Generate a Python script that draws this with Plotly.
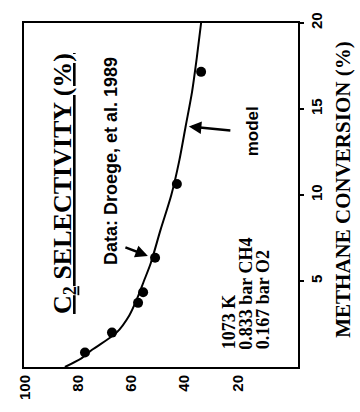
import plotly.graph_objects as go

# ---- data ----
conv_data = [0.84, 2.0, 3.73, 4.35, 6.35, 10.64, 17.16]          # methane conversion (%)
sel_data = [77.45, 67.3, 57.5, 55.6, 51.1, 42.9, 33.8]           # C2 selectivity (%)

conv_model = [0, 0.5, 1, 2, 3, 4, 5, 6, 8, 10, 12, 14, 16, 18, 20]
sel_model = [85.0, 78.8, 74.8, 65.6, 60.8, 57.8, 55.3, 52.8, 49.0, 45.0, 42.0, 39.6, 37.2, 35.4, 33.8]

sel_ticks = [100, 80, 60, 40, 20]
conv_ticks = [5, 10, 15, 20]

# ---- layout geometry (pixels) ----
Wd, Ht = 360, 412
L, R, T, B = 24, 298, 12, 371
PW, PH = R - L, B - T


def px(x):
    return (x - L) / PW


def py(y):
    return (B - y) / PH


serif = "Liberation Serif"
sans = "Liberation Sans"

fig = go.Figure()
fig.add_trace(go.Scatter(x=sel_model, y=conv_model, mode="lines",
                         line=dict(color="black", width=2, shape="spline", smoothing=0.8),
                         showlegend=False, hoverinfo="skip"))
fig.add_trace(go.Scatter(x=sel_data, y=conv_data, mode="markers",
                         marker=dict(color="black", size=10),
                         showlegend=False))

ann = []
# selectivity title (inside plot, underlined)
ann.append(dict(text="<u>C<sub>2</sub> SELECTIVITY (%)</u>", xref="paper", yref="paper",
                x=px(64), y=py(180), xanchor="center", yanchor="middle", textangle=-90,
                showarrow=False, font=dict(family=serif, size=26, color="black", weight="bold")))
# conversion axis title
ann.append(dict(text="METHANE CONVERSION (%)", xref="paper", yref="paper",
                x=px(343), y=py(186), xanchor="center", yanchor="middle", textangle=-90,
                showarrow=False, font=dict(family=serif, size=21, color="black", weight="bold")))
# Data label
ann.append(dict(text="Data: Droege, et al. 1989", xref="paper", yref="paper",
                x=px(111), y=py(156), xanchor="center", yanchor="middle", textangle=-90,
                showarrow=False, font=dict(family=sans, size=18, color="black", weight="bold")))
# arrow to data point
ann.append(dict(text="", x=53.8, y=6.46, xref="x", yref="y", showarrow=True,
                ax=-24, ay=-9, arrowhead=2, arrowsize=1, arrowwidth=2.5, arrowcolor="black"))
# model label
ann.append(dict(text="model", xref="paper", yref="paper",
                x=px(252), y=py(125), xanchor="center", yanchor="middle", textangle=-90,
                showarrow=False, font=dict(family=sans, size=17, color="black", weight="bold")))
ann.append(dict(text="", x=38.4, y=13.98, xref="x", yref="y", showarrow=True,
                ax=43, ay=4, arrowhead=2, arrowsize=1, arrowwidth=2.5, arrowcolor="black"))
# conditions
cond_lines = ["1073 K", "0.833 bar CH4", "0.167 bar O2"]
cond_x = [229, 246, 263]
for t, xx in zip(cond_lines, cond_x):
    ann.append(dict(text=t, xref="paper", yref="paper", x=px(xx), y=py(355),
                    xanchor="center", yanchor="bottom", textangle=-90, showarrow=False,
                    font=dict(family=serif, size=18, color="black", weight="bold")))

fig.update_layout(
    width=Wd, height=Ht,
    margin=dict(l=L, r=Wd - R, t=T, b=Ht - B),
    paper_bgcolor="white", plot_bgcolor="white",
    annotations=ann,
    xaxis=dict(range=[100.38, -2.63], tickvals=sel_ticks, ticktext=[str(v) for v in sel_ticks],
               tickangle=-90, ticks="", showgrid=False, zeroline=False,
               showline=True, linecolor="black", linewidth=2, mirror=True,
               tickfont=dict(family=sans, size=15, color="black", weight="bold")),
    yaxis=dict(range=[0, 20], side="right", tickvals=conv_ticks, ticktext=[str(v) for v in conv_ticks],
               tickangle=-90, ticks="outside", ticklen=4, tickwidth=1.5, tickcolor="black",
               showgrid=False, zeroline=False,
               showline=True, linecolor="black", linewidth=2, mirror=True,
               tickfont=dict(family=sans, size=15, color="black", weight="bold")),
)

fig.write_html("out.html")
